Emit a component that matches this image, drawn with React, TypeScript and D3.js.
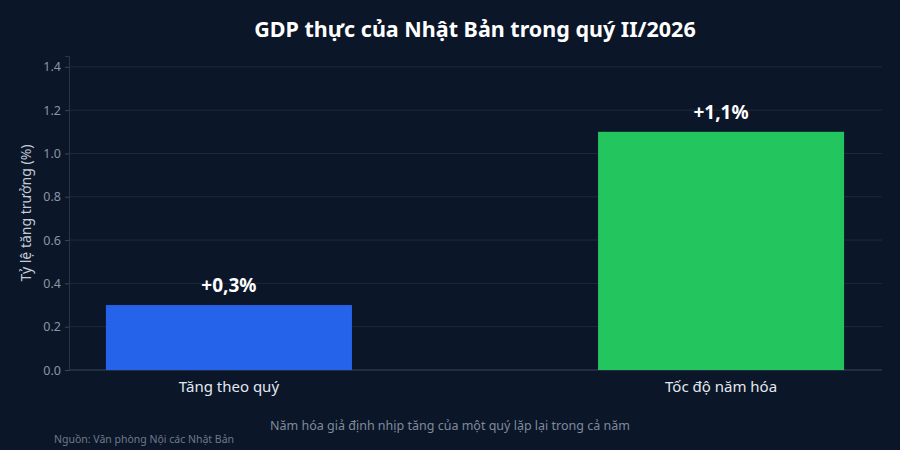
import * as d3 from "d3";
import React, { useEffect, useRef } from "react";

const categories = ["Tăng theo quý", "Tốc độ năm hóa"];
const growthValues = [0.3, 1.1];
const valueLabels = ["+0,3%", "+1,1%"];
const barColors = ["#2563eb", "#22c55e"];
const yTicks = [0, 0.2, 0.4, 0.6, 0.8, 1.0, 1.2, 1.4];

export default function App() {
  const ref = useRef<SVGSVGElement>(null);
  const width = 900;
  const height = 450;
  const margin = { top: 56, right: 19, bottom: 80, left: 69 };

  useEffect(() => {
    const svg = d3.select(ref.current);
    svg.selectAll("*").remove();
    const font = "'Noto Sans', 'Open Sans', sans-serif";

    svg.append("rect").attr("width", width).attr("height", height).attr("fill", "#0b1628");

    const x = d3
      .scaleBand()
      .domain(categories)
      .range([margin.left, width - margin.right])
      .paddingInner(0.5)
      .paddingOuter(0.075);
    const y = d3
      .scaleLinear()
      .domain([0, 1.45])
      .range([height - margin.bottom, margin.top]);

    // gridlines
    svg
      .append("g")
      .selectAll("line")
      .data(yTicks)
      .join("line")
      .attr("x1", margin.left)
      .attr("x2", width - margin.right + 1)
      .attr("y1", (d) => y(d))
      .attr("y2", (d) => y(d))
      .attr("stroke", "#1f2a3c")
      .attr("stroke-width", 1);

    // y axis
    const yAxis = svg
      .append("g")
      .attr("transform", `translate(${margin.left},0)`)
      .call(
        d3
          .axisLeft(y)
          .tickValues(yTicks)
          .tickSize(4)
          .tickPadding(4)
          .tickFormat(d3.format(".1f"))
      );
    yAxis.select(".domain").attr("stroke", "#2a3548");
    yAxis.selectAll(".tick line").attr("stroke", "#3a4558");
    yAxis
      .selectAll(".tick text")
      .attr("fill", "#8b95a5")
      .style("font-family", font)
      .style("font-size", "12.5px");

    // baseline
    svg
      .append("line")
      .attr("x1", margin.left)
      .attr("x2", width - margin.right + 1)
      .attr("y1", y(0))
      .attr("y2", y(0))
      .attr("stroke", "#2e3a4e");

    // bars
    svg
      .append("g")
      .selectAll("rect")
      .data(categories)
      .join("rect")
      .attr("x", (d) => x(d)!)
      .attr("width", x.bandwidth())
      .attr("y", (d, i) => y(growthValues[i]))
      .attr("height", (d, i) => y(0) - y(growthValues[i]))
      .attr("fill", (d, i) => barColors[i]);

    // value labels
    svg
      .append("g")
      .selectAll("text")
      .data(categories)
      .join("text")
      .attr("x", (d) => x(d)! + x.bandwidth() / 2)
      .attr("y", (d, i) => y(growthValues[i]) - 13)
      .attr("text-anchor", "middle")
      .attr("fill", "#ffffff")
      .style("font-family", font)
      .style("font-weight", "bold")
      .style("font-size", "19px")
      .text((d, i) => valueLabels[i]);

    // x category labels
    svg
      .append("g")
      .selectAll("text")
      .data(categories)
      .join("text")
      .attr("x", (d) => x(d)! + x.bandwidth() / 2)
      .attr("y", y(0) + 22)
      .attr("text-anchor", "middle")
      .attr("fill", "#e2e8f0")
      .style("font-family", font)
      .style("font-size", "15px")
      .text((d) => d);

    // y title
    svg
      .append("text")
      .attr("transform", `translate(31, ${(y(0) + margin.top) / 2}) rotate(-90)`)
      .attr("text-anchor", "middle")
      .attr("fill", "#c4ccd8")
      .style("font-family", font)
      .style("font-size", "14px")
      .text("Tỷ lệ tăng trưởng (%)");

    // title
    svg
      .append("text")
      .attr("x", (margin.left + width - margin.right) / 2)
      .attr("y", 37)
      .attr("text-anchor", "middle")
      .attr("fill", "#ffffff")
      .style("font-family", font)
      .style("font-weight", "bold")
      .style("font-size", "21.5px")
      .text("GDP thực của Nhật Bản trong quý II/2026");

    // subtitle note
    svg
      .append("text")
      .attr("x", width / 2)
      .attr("y", 430)
      .attr("text-anchor", "middle")
      .attr("fill", "#7f8a9c")
      .style("font-family", font)
      .style("font-size", "12.5px")
      .text("Năm hóa giả định nhịp tăng của một quý lặp lại trong cả năm");

    // source
    svg
      .append("text")
      .attr("x", 54)
      .attr("y", 443)
      .attr("fill", "#6f7a8c")
      .style("font-family", font)
      .style("font-size", "10.5px")
      .text("Nguồn: Văn phòng Nội các Nhật Bản");
  }, []);

  return (
    <svg
      ref={ref}
      width={width}
      height={height}
      style={{ position: "absolute", left: 0, top: 0, display: "block" }}
    />
  );
}
